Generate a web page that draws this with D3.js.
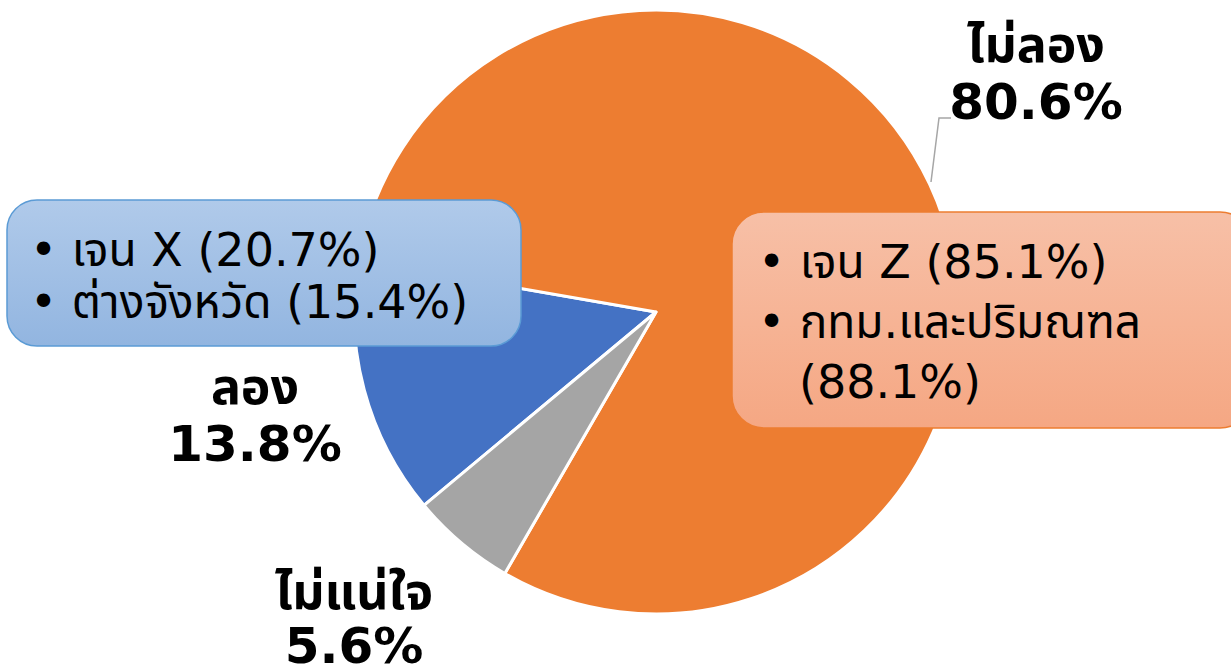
<!DOCTYPE html>
<html>
<head>
<meta charset="utf-8">
<script src="https://cdn.jsdelivr.net/npm/d3@7"></script>
<style>
  body { margin: 0; background: #fff; }
  svg text { font-family: Tahoma, 'DejaVu Sans', 'Noto Sans Thai', sans-serif; }
</style>
</head>
<body>
<svg id="chart" width="1231" height="669"></svg>
<script>
const categories = ['ลอง', 'ไม่ลอง', 'ไม่แน่ใจ'];
const values = [13.8, 80.6, 5.6];
const colors = ['#4472C4', '#ED7D31', '#A5A5A5'];
const blueNotes = ['• เจน X (20.7%)', '• ต่างจังหวัด (15.4%)'];
const orangeNotes = ['• เจน Z (85.1%)', '• กทม.และปริมณฑล', '(88.1%)'];

const svg = d3.select('#chart');
const cx = 656, cy = 312, r = 302;

const pie = d3.pie().sort(null)
  .startAngle(230.2 * Math.PI / 180)
  .endAngle(230.2 * Math.PI / 180 + 2 * Math.PI);
const arc = d3.arc().innerRadius(0).outerRadius(r);
const arcs = pie(values);

const g = svg.append('g').attr('transform', `translate(${cx},${cy})`);
g.selectAll('path.slice').data(arcs).join('path')
  .classed('slice', true)
  .attr('d', arc)
  .attr('fill', (d, i) => colors[i])
  .attr('stroke', '#fff')
  .attr('stroke-width', 3)
  .attr('stroke-linejoin', 'round');

// gradients for the callout boxes
const defs = svg.append('defs');
function grad(id, top, bottom) {
  const lg = defs.append('linearGradient').attr('id', id)
    .attr('x1', 0).attr('y1', 0).attr('x2', 0).attr('y2', 1);
  lg.append('stop').attr('offset', '0%').attr('stop-color', top);
  lg.append('stop').attr('offset', '100%').attr('stop-color', bottom);
}
grad('blueGrad', '#b0caea', '#92b5e0');
grad('orangeGrad', '#f7c0a7', '#f5a783');

// leader line for ไม่ลอง
svg.append('polyline')
  .attr('points', '931,182 939,118 951,118')
  .attr('fill', 'none')
  .attr('stroke', '#a6a6a6')
  .attr('stroke-width', 1.5);

// slice labels
const labelPos = [
  { x: 255, y1: 404, y2: 461 },
  { x: 1036, y1: 62, y2: 119 },
  { x: 354, y1: 609, y2: 663 }
];
categories.forEach((c, i) => {
  const p = labelPos[i];
  const t = svg.append('text')
    .attr('text-anchor', 'middle')
    .attr('font-weight', 'bold')
    .attr('font-size', 50)
    .attr('fill', '#000');
  t.append('tspan').attr('x', p.x).attr('y', p.y1).text(c);
  t.append('tspan').attr('x', p.x).attr('y', p.y2).text(d3.format('.1f')(values[i]) + '%');
});

// blue callout
svg.append('rect')
  .attr('x', 7).attr('y', 200).attr('width', 514).attr('height', 146)
  .attr('rx', 30).attr('ry', 30)
  .attr('fill', 'url(#blueGrad)')
  .attr('stroke', '#5b9bd5').attr('stroke-width', 1.5);
svg.append('g').selectAll('text').data(blueNotes).join('text')
  .attr('x', 30)
  .attr('y', (d, i) => 266 + i * 52)
  .attr('font-size', 46)
  .attr('fill', '#000')
  .text(d => d);

// orange callout
svg.append('rect')
  .attr('x', 732).attr('y', 212).attr('width', 520).attr('height', 216)
  .attr('rx', 32).attr('ry', 32)
  .attr('fill', 'url(#orangeGrad)')
  .attr('stroke', '#ed7d31').attr('stroke-width', 1.5);
svg.append('g').selectAll('text').data(orangeNotes).join('text')
  .attr('x', (d, i) => i === 2 ? 799 : 758)
  .attr('y', (d, i) => 278 + i * 60)
  .attr('font-size', 46)
  .attr('fill', '#000')
  .text(d => d);
</script>
</body>
</html>
